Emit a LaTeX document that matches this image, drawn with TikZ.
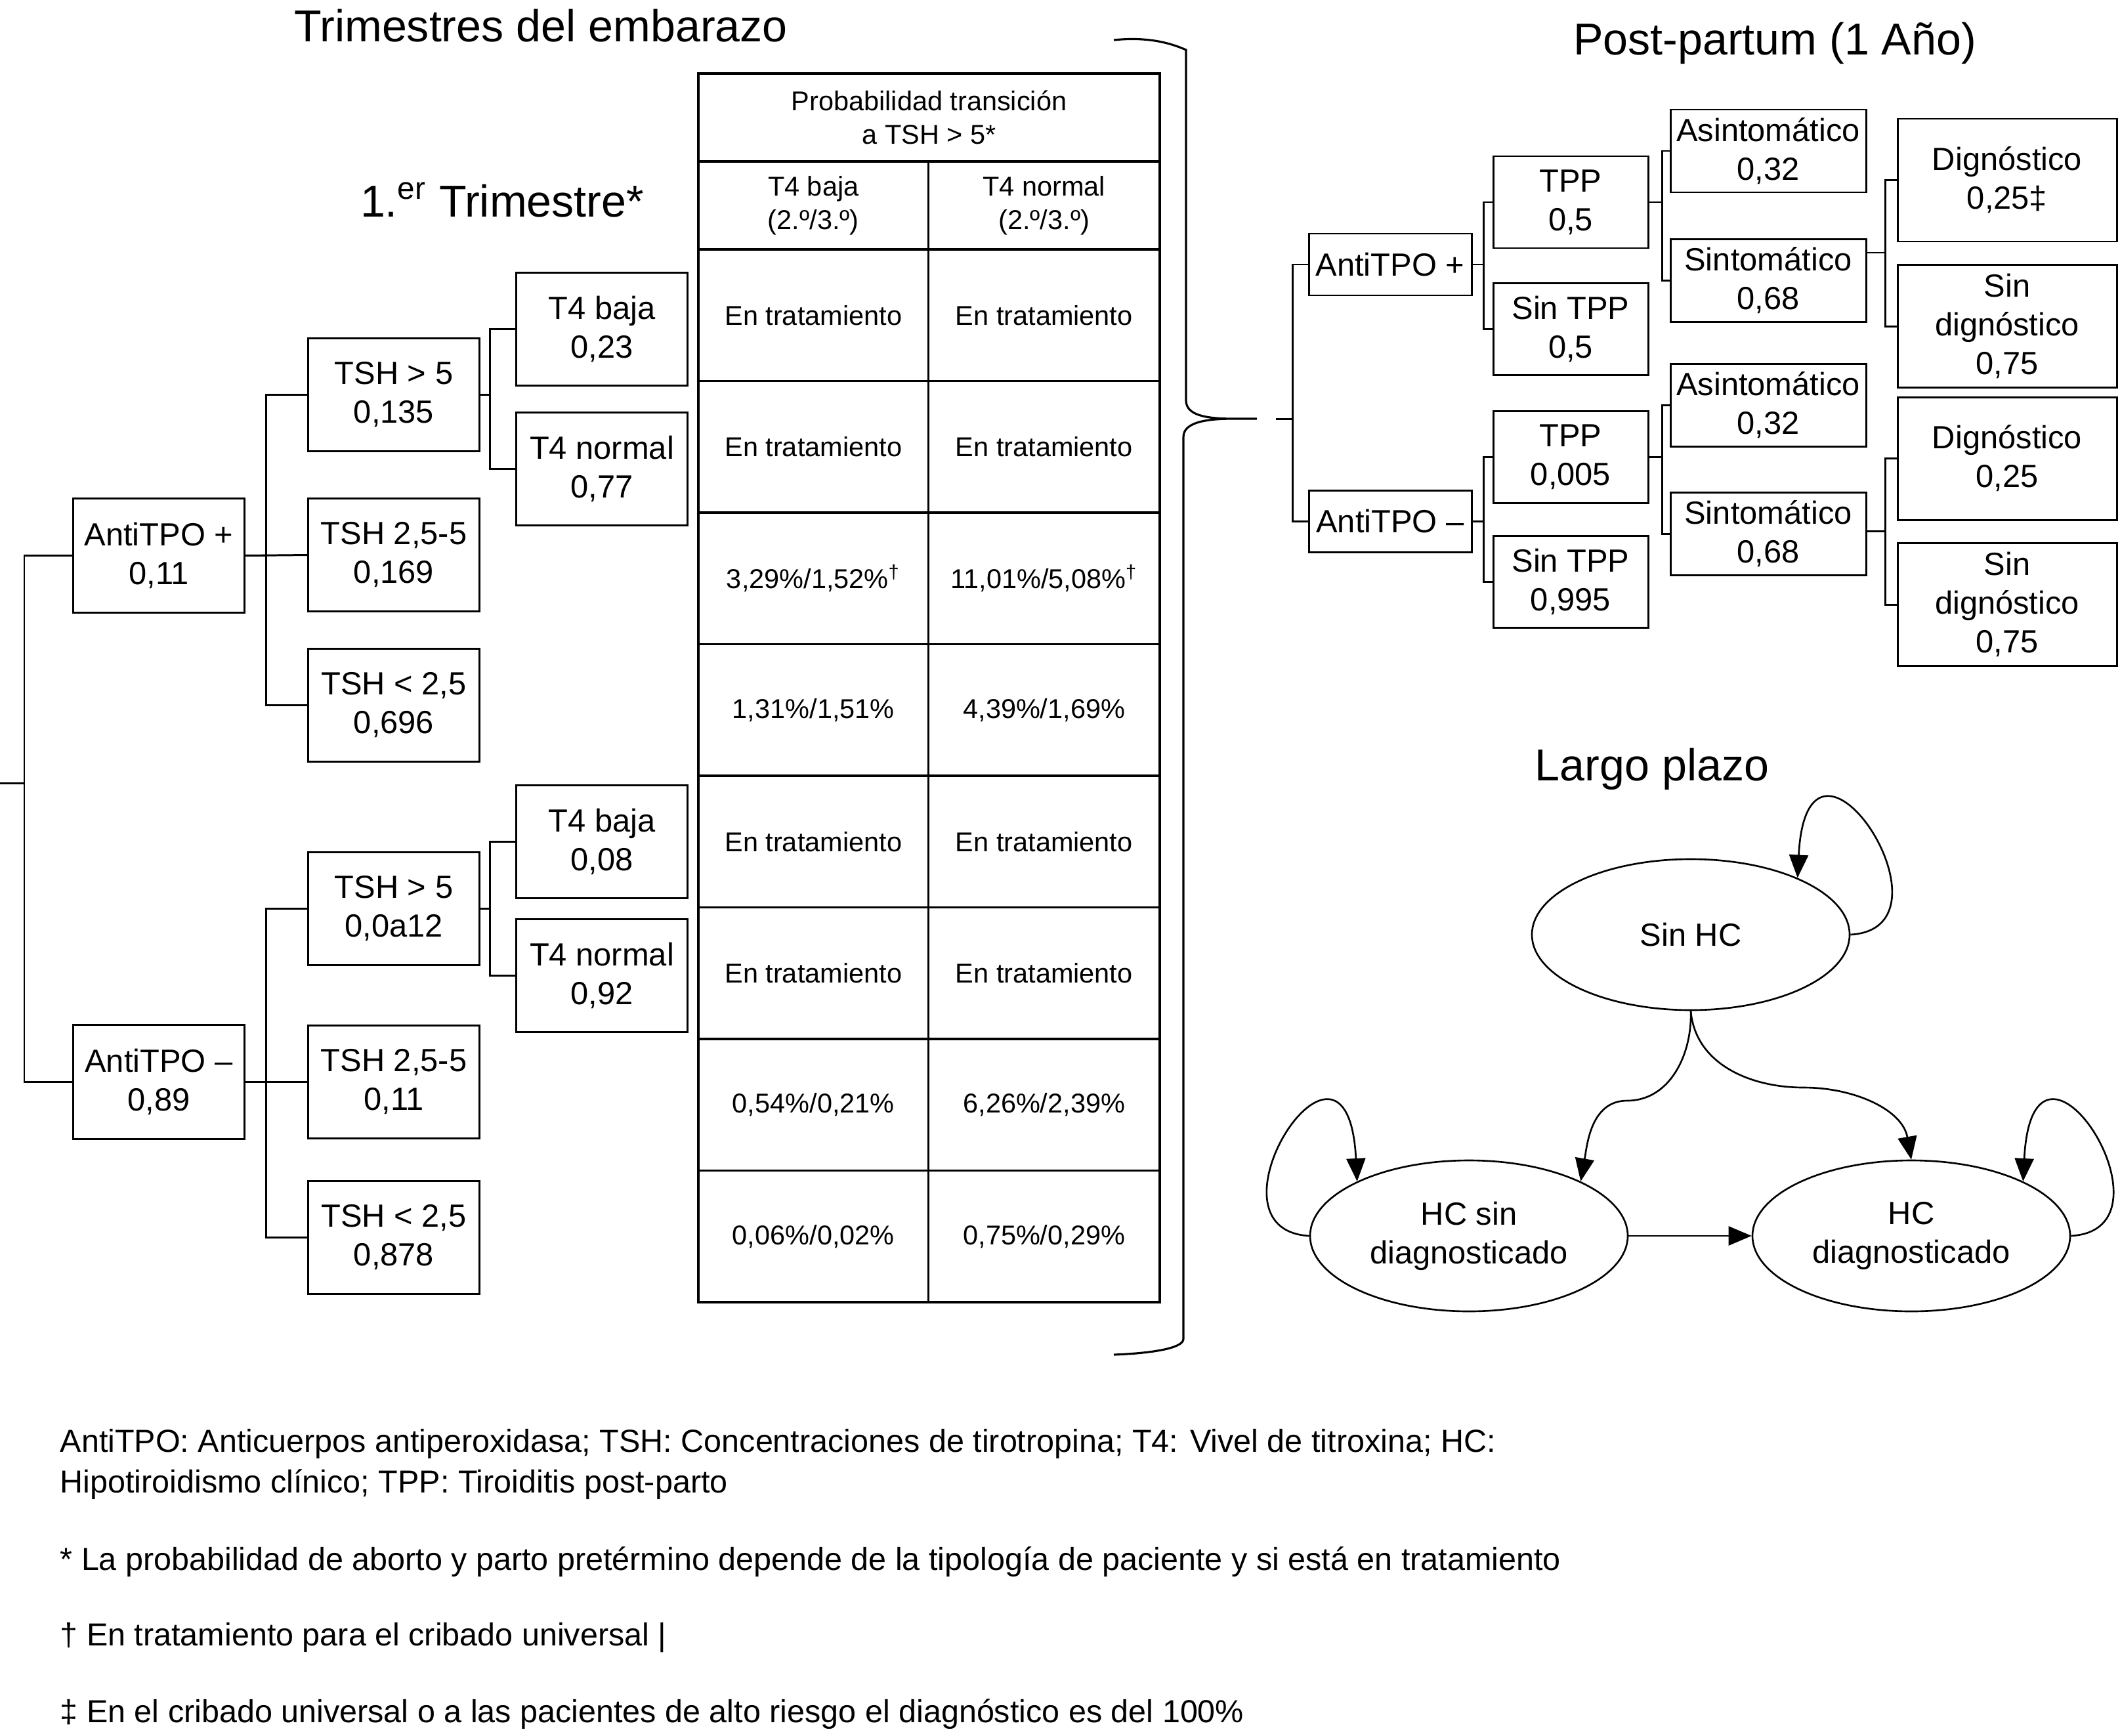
\documentclass[tikz,border=0pt]{standalone}
\usepackage{fontspec}
\setmainfont{Liberation Sans}
\usetikzlibrary{arrows.meta,positioning,shapes.geometric}
\newcommand{\treefont}{\fontsize{13.9}{16.8}\selectfont}
\newcommand{\notefont}{\fontsize{13.8}{16.8}\selectfont}
\newcommand{\tabfont}{\fontsize{11.8}{14.6}\selectfont}
\newcommand{\partfont}{\fontsize{19.4}{23}\selectfont}

\begin{document}
\begin{tikzpicture}[
  tbox/.style={draw, line width=0.85pt, inner sep=1pt, outer sep=0pt, align=center, font=\treefont, minimum width=2.61cm, minimum height=1.72cm},
  cell/.style={draw, line width=0.9pt, inner sep=1pt, outer sep=0pt, align=center, font=\tabfont, minimum width=3.505cm, minimum height=2.005cm},
  cellb/.style={cell, minimum width=3.525cm},
  state/.style={ellipse, draw, line width=0.75pt, minimum width=4.84cm, minimum height=2.3cm, inner sep=0pt, align=center, font=\treefont},
  part/.style={font=\partfont, anchor=base, inner sep=0pt},
  note/.style={font=\notefont, anchor=base west, inner sep=0pt},
  link/.style={line width=0.85pt},
  arr/.style={-{Triangle[length=3.5mm, width=2.9mm]}, line width=0.75pt}]
\useasboundingbox (0,0) rectangle (32.30,-26.44);

% titles
\node[part] (tembarazo) at (8.24,-0.63) {Trimestres del embarazo};
\node[part] (tprimero) at (7.65,-3.30) {1.\textsuperscript{er} Trimestre*};
\node[part] (tpost) at (27.04,-0.84) {Post-partum (1 Año)};
\node[part] (tlargo) at (25.17,-11.89) {Largo plazo};

% first trimester tree
\coordinate (root) at (0,-11.93);
\node[tbox, minimum height=1.74cm] (antipos) at (2.42,-8.465) {AntiTPO +\\0,11};
\node[tbox, minimum height=1.74cm] (antineg) at (2.42,-16.485) {AntiTPO –\\0,89};
\node[tbox] (tsh2p) at (6.00,-8.455) {TSH 2,5-5\\0,169};
\node[tbox] (tsh1p) at (6.00,-6.015) {TSH > 5\\0,135};
\node[tbox] (tsh3p) at (6.00,-10.745) {TSH < 2,5\\0,696};
\node[tbox] (t4bp) at (9.17,-5.015) {T4 baja\\0,23};
\node[tbox] (t4np) at (9.17,-7.145) {T4 normal\\0,77};
\node[tbox] (tsh1n) at (6.00,-13.845) {TSH > 5\\0,0a12};
\node[tbox] (tsh2n) at (6.00,-16.485) {TSH 2,5-5\\0,11};
\node[tbox] (tsh3n) at (6.00,-18.855) {TSH < 2,5\\0,878};
\node[tbox] (t4bn) at (9.17,-12.825) {T4 baja\\0,08};
\node[tbox] (t4nn) at (9.17,-14.865) {T4 normal\\0,92};

\draw[link] (root) -- ++(0.37,0) |- (antipos.west);
\draw[link] (root) ++(0.37,0) |- (antineg.west);
\draw[link] (antipos.east) -- ++(0.33,0) |- (tsh1p.west);
\draw[link] (antipos.east) ++(0.33,0) |- (tsh3p.west);
\draw[link] (antipos.east) -- (tsh2p.west);
\draw[link] (tsh1p.east) -- ++(0.16,0) |- (t4bp.west);
\draw[link] (tsh1p.east) ++(0.16,0) |- (t4np.west);
\draw[link] (antineg.east) -- ++(0.33,0) |- (tsh1n.west);
\draw[link] (antineg.east) ++(0.33,0) |- (tsh3n.west);
\draw[link] (antineg.east) -- (tsh2n.west);
\draw[link] (tsh1n.east) -- ++(0.16,0) |- (t4bn.west);
\draw[link] (tsh1n.east) ++(0.16,0) |- (t4nn.west);

% transition table
\node[cell, minimum width=7.03cm, minimum height=1.34cm] (thead) at (14.155,-1.79) {Probabilidad transición\\a TSH > 5*};
\node[cell, minimum height=1.34cm, below=0pt of thead.south west, anchor=north west] (tlow) {T4 baja\\(2.º/3.º)};
\node[cellb, minimum height=1.34cm, right=0pt of tlow] (tnorm) {T4 normal\\(2.º/3.º)};
\node[cell, below=0pt of tlow] (ra1) {En tratamiento};
\node[cellb, below=0pt of tnorm] (rb1) {En tratamiento};
\node[cell, below=0pt of ra1] (ra2) {En tratamiento};
\node[cellb, below=0pt of rb1] (rb2) {En tratamiento};
\node[cell, below=0pt of ra2] (ra3) {3,29\%/1,52\%\textsuperscript{†}};
\node[cellb, below=0pt of rb2] (rb3) {11,01\%/5,08\%\textsuperscript{†}};
\node[cell, below=0pt of ra3] (ra4) {1,31\%/1,51\%};
\node[cellb, below=0pt of rb3] (rb4) {4,39\%/1,69\%};
\node[cell, below=0pt of ra4] (ra5) {En tratamiento};
\node[cellb, below=0pt of rb4] (rb5) {En tratamiento};
\node[cell, below=0pt of ra5] (ra6) {En tratamiento};
\node[cellb, below=0pt of rb5] (rb6) {En tratamiento};
\node[cell, below=0pt of ra6] (ra7) {0,54\%/0,21\%};
\node[cellb, below=0pt of rb6] (rb7) {6,26\%/2,39\%};
\node[cell, below=0pt of ra7] (ra8) {0,06\%/0,02\%};
\node[cellb, below=0pt of rb7] (rb8) {0,75\%/0,29\%};

% brace
\draw[line width=0.9pt] (16.97,-0.61) .. controls (17.45,-0.56) and (17.80,-0.64) .. (18.07,-0.76) -- (18.07,-6.10)
  .. controls (18.07,-6.32) and (18.35,-6.38) .. (18.80,-6.38) -- (19.15,-6.38)
  (18.80,-6.38) .. controls (18.35,-6.38) and (18.03,-6.44) .. (18.03,-6.66) -- (18.03,-20.40)
  .. controls (18.03,-20.55) and (17.50,-20.62) .. (16.97,-20.64);

% post-partum tree
\coordinate (ppin) at (19.44,-6.38);
\node[tbox, minimum width=2.48cm, minimum height=0.94cm] (ppos) at (21.18,-4.03) {AntiTPO +};
\node[tbox, minimum width=2.48cm, minimum height=0.94cm] (pneg) at (21.18,-7.94) {AntiTPO –};
\node[tbox, minimum width=2.36cm, minimum height=1.40cm] (tppp) at (23.93,-3.08) {TPP\\0,5};
\node[tbox, minimum width=2.36cm, minimum height=1.40cm] (stppp) at (23.93,-5.015) {Sin TPP\\0,5};
\node[tbox, minimum width=2.36cm, minimum height=1.40cm] (tppn) at (23.93,-6.96) {TPP\\0,005};
\node[tbox, minimum width=2.36cm, minimum height=1.40cm] (stppn) at (23.93,-8.865) {Sin TPP\\0,995};
\node[tbox, minimum width=2.98cm, minimum height=1.26cm] (asp) at (26.94,-2.30) {Asintomático\\0,32};
\node[tbox, minimum width=2.98cm, minimum height=1.26cm] (sip) at (26.94,-4.275) {Sintomático\\0,68};
\node[tbox, minimum width=2.98cm, minimum height=1.26cm] (asn) at (26.94,-6.17) {Asintomático\\0,32};
\node[tbox, minimum width=2.98cm, minimum height=1.26cm] (sintn) at (26.94,-8.135) {Sintomático\\0,68};
\node[tbox, minimum width=3.34cm, minimum height=1.87cm] (dgp) at (30.58,-2.745) {Dignóstico\\0,25‡};
\node[tbox, minimum width=3.34cm, minimum height=1.87cm] (sdgp) at (30.58,-4.97) {Sin\\dignóstico\\0,75};
\node[tbox, minimum width=3.34cm, minimum height=1.87cm] (dgn) at (30.58,-6.985) {Dignóstico\\0,25};
\node[tbox, minimum width=3.34cm, minimum height=1.87cm] (sdgn) at (30.58,-9.21) {Sin\\dignóstico\\0,75};

\draw[link] (ppin) -- ++(0.25,0) |- (ppos.west);
\draw[link] (ppin) ++(0.25,0) |- (pneg.west);
\draw[link] (ppos.east) -- ++(0.18,0) |- (tppp.west);
\draw[link] (ppos.east) ++(0.18,0) |- (stppp.west);
\draw[link] (tppp.east) -- ++(0.21,0) |- (asp.west);
\draw[link] (tppp.east) ++(0.21,0) |- (sip.west);
\draw[link] ([yshift=0.425cm]sip.east) -- ++(0.29,0) |- (dgp.west);
\draw[link] ([yshift=0.425cm]sip.east) ++(0.29,0) |- (sdgp.west);
\draw[link] (pneg.east) -- ++(0.18,0) |- (tppn.west);
\draw[link] (pneg.east) ++(0.18,0) |- (stppn.west);
\draw[link] (tppn.east) -- ++(0.21,0) |- (asn.west);
\draw[link] (tppn.east) ++(0.21,0) |- (sintn.west);
\draw[link] ([yshift=0.045cm]sintn.east) -- ++(0.29,0) |- (dgn.west);
\draw[link] ([yshift=0.045cm]sintn.east) ++(0.29,0) |- (sdgn.west);

% long term states
\node[state] (sinhc) at (25.76,-14.24) {Sin HC};
\node[state] (hcsin) at (22.38,-18.83) {HC sin\\diagnosticado};
\node[state] (hcdiag) at (29.12,-18.83) {HC\\diagnosticado};
\coordinate (bendl) at (24.79,-16.77);
\coordinate (bendr) at (27.48,-16.57);
\draw[arr] (sinhc.east) .. controls +(1.75,0.1) and +(0.15,2.9) .. (sinhc.28);
\draw[arr] (hcsin.west) .. controls +(-1.75,0.1) and +(-0.15,2.9) .. (hcsin.154);
\draw[arr] (hcdiag.east) .. controls +(1.75,0.1) and +(0.15,2.9) .. (hcdiag.26);
\draw[arr] (sinhc.south) to[out=-88, in=0] (bendl) to[out=180, in=80] (hcsin.26);
\draw[arr] (sinhc.south) to[out=-85, in=180] (bendr) to[out=0, in=100] (hcdiag.north);
\draw[arr] (hcsin) -- (hcdiag);

% footnotes
\node[note] (fnabbr) at (0.91,-22.12) {AntiTPO: Anticuerpos antiperoxidasa; TSH: Concentraciones de tirotropina; T4: Vivel de titroxina; HC:};
\node[note] (fnabbrb) at (0.91,-22.74) {Hipotiroidismo clínico; TPP: Tiroiditis post-parto};
\node[note] (fnstar) at (0.91,-23.92) {* La probabilidad de aborto y parto pretérmino depende de la tipología de paciente y si está en tratamiento};
\node[note] (fndag) at (0.91,-25.07) {† En tratamiento para el cribado universal |};
\node[note] (fnddag) at (0.91,-26.24) {‡ En el cribado universal o a las pacientes de alto riesgo el diagnóstico es del 100\%};
\end{tikzpicture}
\end{document}
